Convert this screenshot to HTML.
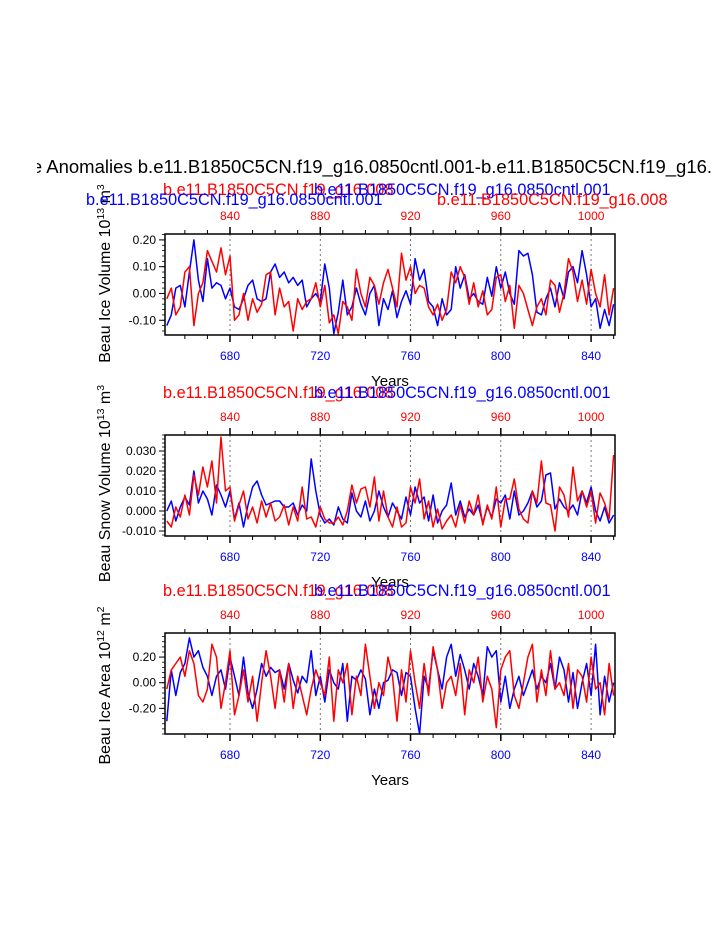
<!DOCTYPE html>
<html><head><meta charset="utf-8"><style>
html,body{margin:0;padding:0;background:#fff;width:723px;height:935px;overflow:hidden}
svg text{font-family:"Liberation Sans",sans-serif}
</style></head><body>
<svg id="chart" width="723" height="935" viewBox="0 0 723 935" xmlns="http://www.w3.org/2000/svg">
<defs><clipPath id="tclip"><rect x="37" y="140" width="674" height="40"/></clipPath></defs>
<text clip-path="url(#tclip)" x="356" y="173" font-size="18.5" text-anchor="middle">Beau Ice Anomalies b.e11.B1850C5CN.f19_g16.0850cntl.001-b.e11.B1850C5CN.f19_g16.008</text>
<g id="panels"></g>
</svg>
<script>
const bottomTicks=[680,720,760,800,840];
const topTicks=[840,880,920,960,1000];
const startYear=652;
const yearStep=2;
const p1Ticks=[0.20,0.10,0.00,-0.10];
const p1TickLabels=["0.20","0.10","0.00","-0.10"];
const p2Ticks=[0.030,0.020,0.010,0.000,-0.010];
const p2TickLabels=["0.030","0.020","0.010","0.000","-0.010"];
const p3Ticks=[0.20,0.00,-0.20];
const p3TickLabels=["0.20","0.00","-0.20"];
const blueIceVol=[-0.12,-0.08,0.02,0.03,-0.05,0.08,0.20,0.05,-0.03,0.13,0.02,0.04,0.03,-0.02,0.02,-0.05,-0.06,-0.02,0.03,0.05,-0.02,-0.03,-0.02,0.08,0.11,0.06,0.08,0.04,0.06,0.03,0.05,-0.05,-0.02,0.00,-0.03,0.11,0.02,-0.15,-0.07,0.05,-0.08,-0.05,0.02,-0.04,-0.08,0.00,0.03,-0.12,-0.02,-0.06,0.01,-0.09,-0.03,0.01,-0.04,0.13,0.05,0.09,-0.03,-0.05,-0.12,-0.02,-0.08,-0.06,0.10,0.02,0.07,-0.02,0.00,-0.03,-0.04,0.06,-0.01,0.10,0.02,0.08,0.00,-0.04,0.16,0.14,0.15,0.07,-0.07,-0.08,-0.02,0.02,-0.05,0.04,-0.02,0.08,0.10,0.04,0.16,0.07,-0.05,-0.02,-0.13,-0.06,-0.12,-0.04];
const redIceVol=[-0.02,0.02,-0.08,-0.05,0.08,0.10,-0.12,0.00,0.04,0.16,0.12,0.08,0.17,0.07,0.14,-0.10,-0.08,0.00,-0.10,-0.02,-0.07,-0.04,0.07,0.08,-0.08,0.02,-0.05,-0.03,-0.14,-0.02,-0.06,-0.03,-0.02,0.04,-0.05,0.03,-0.11,-0.08,-0.15,-0.03,-0.05,-0.10,0.09,0.00,-0.05,0.06,0.03,-0.04,0.04,0.09,0.02,-0.05,0.15,0.05,0.10,0.00,0.03,0.02,-0.05,-0.08,-0.04,-0.10,-0.06,0.08,0.04,0.10,0.06,-0.04,0.04,-0.05,0.01,-0.08,-0.06,0.06,0.07,-0.03,0.03,-0.13,0.03,0.00,-0.06,-0.12,-0.05,-0.02,-0.08,0.05,0.03,-0.07,0.00,0.13,0.08,-0.03,0.05,-0.04,0.09,0.00,-0.05,0.07,-0.08,0.02];
const blueSnow=[0.000,0.005,-0.005,0.002,0.007,0.003,0.020,0.004,0.010,0.006,-0.002,0.013,0.008,0.002,0.010,-0.004,0.004,-0.008,0.003,0.012,0.015,0.008,0.003,0.004,0.005,0.005,0.002,0.002,0.004,-0.002,0.003,0.000,0.026,0.010,-0.002,-0.006,-0.004,-0.007,0.002,-0.004,-0.006,0.009,0.000,-0.003,0.005,-0.005,0.000,0.010,0.002,-0.003,0.004,0.000,-0.004,0.007,-0.002,0.012,0.004,0.007,-0.005,0.008,-0.006,0.000,0.003,0.014,-0.002,0.005,-0.003,0.001,-0.002,0.003,-0.006,0.002,-0.003,0.006,0.004,0.008,-0.004,0.010,-0.002,0.000,0.004,0.010,0.002,0.005,0.018,0.019,0.001,0.006,0.002,0.000,0.003,-0.002,0.010,0.004,0.012,0.000,-0.005,0.002,-0.006,-0.002];
const redSnow=[-0.005,-0.008,0.002,-0.003,0.008,-0.002,0.018,0.008,0.022,0.012,0.025,0.004,0.037,0.010,0.012,-0.005,0.003,0.010,-0.004,0.002,-0.006,0.005,-0.003,0.004,-0.005,-0.003,0.003,-0.007,0.002,-0.005,0.012,-0.004,-0.003,-0.008,0.002,-0.004,-0.006,-0.006,-0.003,-0.007,0.000,0.013,0.004,0.011,0.012,0.002,0.017,-0.005,0.010,-0.003,-0.008,0.002,-0.008,-0.006,0.012,0.004,0.016,-0.004,0.005,-0.008,0.001,-0.009,-0.005,-0.002,-0.008,0.003,-0.006,0.005,-0.002,0.008,-0.007,0.003,-0.004,0.012,-0.008,0.006,0.006,0.016,0.001,-0.004,-0.006,0.010,0.004,0.025,0.004,0.003,-0.010,0.012,0.008,-0.003,0.022,0.005,0.010,0.002,0.010,-0.006,0.009,0.004,-0.004,0.028];
const blueArea=[-0.30,0.10,-0.10,0.08,0.15,0.35,0.20,0.25,0.12,0.05,-0.10,0.05,0.10,-0.05,0.20,0.05,-0.10,0.20,-0.08,-0.20,-0.05,0.15,0.05,0.12,0.08,0.10,-0.05,0.15,0.02,-0.08,0.05,0.00,0.25,-0.10,0.05,-0.15,0.10,0.00,-0.05,0.15,-0.30,0.05,0.02,0.10,0.03,-0.25,-0.05,-0.20,0.00,0.02,0.10,0.08,-0.10,0.08,0.05,-0.20,-0.40,0.05,-0.05,0.25,0.10,-0.05,0.20,0.30,0.05,0.22,0.10,-0.05,0.15,0.05,-0.10,0.28,0.20,0.25,-0.15,0.05,-0.20,-0.05,0.05,-0.10,0.00,0.10,-0.05,0.05,0.00,0.15,-0.05,0.20,0.10,-0.15,0.08,-0.20,0.00,0.15,-0.10,0.30,-0.25,0.05,-0.15,0.00];
const redArea=[-0.05,0.10,0.15,0.20,0.05,0.25,0.15,-0.10,-0.15,-0.05,0.30,0.20,-0.20,0.00,0.25,-0.25,-0.10,0.10,-0.15,0.05,-0.30,0.00,0.25,0.05,-0.20,0.10,-0.15,0.15,-0.20,0.05,-0.10,-0.25,-0.05,0.10,0.00,-0.10,0.20,-0.30,0.10,0.00,0.15,-0.25,0.05,-0.10,0.30,0.05,-0.20,0.00,-0.10,0.20,0.05,-0.30,0.10,-0.15,0.25,0.00,-0.20,0.15,-0.10,0.28,0.10,-0.20,0.00,0.05,-0.10,0.15,-0.25,0.10,0.00,0.20,-0.15,0.05,-0.05,-0.35,0.10,0.20,0.25,-0.10,-0.20,0.00,0.20,0.30,-0.15,0.10,-0.10,0.25,-0.05,0.00,-0.10,0.15,-0.20,0.10,0.05,-0.15,0.20,-0.05,0.00,-0.25,0.15,-0.10];

const NS="http://www.w3.org/2000/svg";
const root=document.getElementById('panels');
const X0=165,X1=615,YR0=651.2,YR1=850.6;
function xs(yr){return X0+(yr-YR0)/(YR1-YR0)*(X1-X0);}
function xsTop(yr){return xs(yr-160);}
function mk(tag,attrs,parent){const e=document.createElementNS(NS,tag);for(const k in attrs)e.setAttribute(k,attrs[k]);(parent||root).appendChild(e);return e;}
function txt(s,attrs,parent){const e=mk('text',attrs,parent);e.textContent=s;return e;}

const panels=[
 {top:234,bot:335,vTop:0.222,vBot:-0.155,ticks:p1Ticks,labels:p1TickLabels,minor:0.02,blue:blueIceVol,red:redIceVol,title:"Beau Ice Volume 10",exp:"13",unit:" m",uexp:"3",name:"ice-volume",first:true,yoff:-11},
 {top:435,bot:536,vTop:0.038,vBot:-0.0125,ticks:p2Ticks,labels:p2TickLabels,minor:0.002,blue:blueSnow,red:redSnow,title:"Beau Snow Volume 10",exp:"13",unit:" m",uexp:"3",name:"snow-volume",yoff:-2},
 {top:633,bot:734,vTop:0.388,vBot:-0.40,ticks:p3Ticks,labels:p3TickLabels,minor:0.04,blue:blueArea,red:redArea,title:"Beau Ice Area 10",exp:"12",unit:" m",uexp:"2",name:"ice-area",yoff:2}
];

panels.forEach(p=>{
 const g=mk('g',{});
 
 
 const ys=v=>p.top+(p.vTop-v)/(p.vTop-p.vBot)*(p.bot-p.top);
 bottomTicks.forEach(t=>{const l=mk('line',{x1:xs(t),x2:xs(t),y1:p.top,y2:p.bot,stroke:'#555','stroke-width':0.8,'stroke-dasharray':'2,3'},g);
  
  });
 [['blue',p.blue,'#0000ff'],['red',p.red,'#ff0000']].forEach(([nm,arr,c])=>{
  const pts=arr.map((v,i)=>xs(startYear+i*yearStep).toFixed(1)+','+ys(v).toFixed(1)).join(' ');
  const pl=mk('polyline',{points:pts,fill:'none',stroke:c,'stroke-width':1.5,'stroke-linejoin':'round'},g);
  
  
 });
 const fr=mk('rect',{x:X0,y:p.top,width:X1-X0,height:p.bot-p.top,fill:'none',stroke:'#000','stroke-width':1.5},g);
 
 
 p.ticks.forEach((t,i)=>{const y=ys(t);
  mk('line',{x1:X0-6,x2:X0,y1:y,y2:y,stroke:'#000','stroke-width':1},g);
  const tl=txt(p.labels[i],{x:X0-9,y:y+4,'font-size':12,'text-anchor':'end'},g);
  
  });
 const base=p.ticks[p.ticks.length-1];
 for(let k=-40;k<60;k++){const v=base+k*p.minor;if(v<p.vBot||v>p.vTop)continue;const y=ys(v);
  mk('line',{x1:X0-3,x2:X0,y1:y,y2:y,stroke:'#000','stroke-width':0.8},g);}
 for(let yr=660;yr<=850;yr+=10){const x=xs(yr);const maj=bottomTicks.includes(yr);
  mk('line',{x1:x,x2:x,y1:p.bot,y2:p.bot+(maj?7:4),stroke:'#000','stroke-width':maj?1.5:1},g);}
 bottomTicks.forEach(t=>{const tl=txt(String(t),{x:xs(t),y:p.bot+25,'font-size':12,fill:'#0000ff','text-anchor':'middle'},g);
  
  });
 for(let yr=820;yr<=1000;yr+=10){const x=xsTop(yr);const maj=topTicks.includes(yr);
  mk('line',{x1:x,x2:x,y1:p.top,y2:p.top-(maj?7:4),stroke:'#000','stroke-width':maj?1.5:1},g);}
 topTicks.forEach(t=>{const tl=txt(String(t),{x:xsTop(t),y:p.top-14,'font-size':12,fill:'#ff0000','text-anchor':'middle'},g);
  
  });
 const xt=txt('Years',{x:390,y:p.bot+51,'font-size':15,'text-anchor':'middle'},g);
 
 
 const cy=(p.top+p.bot)/2+p.yoff;
 const yt=mk('text',{transform:`translate(110,${cy}) rotate(-90)`,'font-size':16,'text-anchor':'middle'},g);
 
 
 yt.innerHTML=`${p.title}<tspan font-size="10.5" dy="-6">${p.exp}</tspan><tspan dy="6">${p.unit}</tspan><tspan font-size="10.5" dy="-6">${p.uexp}</tspan>`;
 if(p.first){
  const a=txt('b.e11.B1850C5CN.f19_g16.008',{x:163,y:p.top-39,'font-size':16.3,fill:'#ff0000'},g);
  
  const b=txt('b.e11.B1850C5CN.f19_g16.0850cntl.001',{x:86,y:p.top-29,'font-size':16.3,fill:'#0000ff'},g);
  
  const c=txt('b.e11.B1850C5CN.f19_g16.0850cntl.001',{x:314,y:p.top-39,'font-size':16.3,fill:'#0000ff'},g);
  
  const d=txt('b.e11.B1850C5CN.f19_g16.008',{x:437,y:p.top-29,'font-size':16.3,fill:'#ff0000'},g);
  
 } else {
  const a=txt('b.e11.B1850C5CN.f19_g16.008',{x:163,y:p.top-37,'font-size':16.3,fill:'#ff0000'},g);
  
  const c=txt('b.e11.B1850C5CN.f19_g16.0850cntl.001',{x:314,y:p.top-37,'font-size':16.3,fill:'#0000ff'},g);
  
 }
});
</script>
</body></html>
